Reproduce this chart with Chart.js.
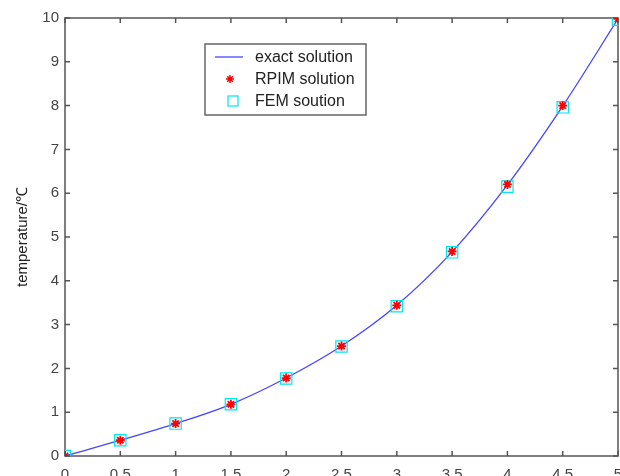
<!DOCTYPE html>
<html>
<head>
<meta charset="utf-8">
<script src="https://cdn.jsdelivr.net/npm/chart.js@4.4.0/dist/chart.umd.min.js"></script>
<style>
html, body { margin: 0; padding: 0; background: #fff; overflow: hidden; }
#wrap { position: relative; width: 640px; height: 500px; }
</style>
</head>
<body>
<div id="wrap"><canvas id="plot" width="640" height="500"></canvas></div>
<script>
// data
const xs = [0, 0.5, 1, 1.5, 2, 2.5, 3, 3.5, 4, 4.5, 5];
const exact = [0, 0.36, 0.74, 1.18, 1.78, 2.51, 3.44, 4.66, 6.19, 7.99, 9.98];
const rpim = [0, 0.36, 0.74, 1.18, 1.78, 2.51, 3.44, 4.67, 6.2, 8.0, 9.98];
const fem = [0, 0.36, 0.74, 1.18, 1.77, 2.5, 3.42, 4.65, 6.15, 7.96, 9.96];
const yTicks = [0, 1, 2, 3, 4, 5, 6, 7, 8, 9, 10];

const labels = ['exact solution', 'RPIM solution', 'FEM soution'];

function pts(ys) {
    return xs.map((x, i) => ({ x: x, y: ys[i] }));
}

const tickFont = { family: 'Liberation Sans, Arial, sans-serif', size: 15 };
const axisColor = '#555';
const lineBlue = '#4646ff';

// frame with inward ticks, drawn like matlab's box
const boxPlugin = {
    id: 'box',
    beforeDatasetsDraw(chart) {
        const ctx = chart.ctx;
        const a = chart.chartArea;
        const sx = chart.scales.x, sy = chart.scales.y;
        ctx.save();
        ctx.strokeStyle = axisColor;
        ctx.lineWidth = 1.5;
        ctx.strokeRect(a.left, a.top, a.right - a.left, a.bottom - a.top);
        ctx.beginPath();
        xs.forEach(v => {
            const px = sx.getPixelForValue(v);
            ctx.moveTo(px, a.bottom); ctx.lineTo(px, a.bottom - 5);
            ctx.moveTo(px, a.top); ctx.lineTo(px, a.top + 5);
        });
        yTicks.forEach(v => {
            const py = sy.getPixelForValue(v);
            ctx.moveTo(a.left, py); ctx.lineTo(a.left + 5, py);
            ctx.moveTo(a.right, py); ctx.lineTo(a.right - 5, py);
        });
        ctx.stroke();
        ctx.restore();
    }
};

const legendPlugin = {
    id: 'boxLegend',
    afterDraw(chart) {
        const ctx = chart.ctx;
        const x0 = 205, y0 = 44, w = 161, h = 71;
        ctx.save();
        ctx.fillStyle = '#fff';
        ctx.fillRect(x0, y0, w, h);
        ctx.strokeStyle = '#666';
        ctx.lineWidth = 1.5;
        ctx.strokeRect(x0, y0, w, h);

        const rows = [57, 79, 101];
        // line sample
        ctx.strokeStyle = lineBlue;
        ctx.lineWidth = 1.3;
        ctx.beginPath();
        ctx.moveTo(215, rows[0]); ctx.lineTo(243, rows[0]);
        ctx.stroke();
        // star
        ctx.strokeStyle = '#ff0000';
        ctx.lineWidth = 1.5;
        Chart.helpers.drawPoint(ctx, { pointStyle: 'star', radius: 4, rotation: 0, borderWidth: 1.5 }, 230, rows[1]);
        // square
        ctx.strokeStyle = '#00e5ee';
        ctx.lineWidth = 1.2;
        ctx.strokeRect(228, rows[2] - 5, 10, 10);

        ctx.fillStyle = '#222';
        ctx.font = '16px "Liberation Sans", Arial, sans-serif';
        ctx.textBaseline = 'middle';
        labels.forEach((t, i) => ctx.fillText(t, 255, rows[i] + 1));
        ctx.restore();
    }
};

const c = document.getElementById('plot').getContext('2d');
const chart = new Chart(c, {
    type: 'scatter',
    data: {
        datasets: [{
            label: labels[0],
            data: pts(exact),
            showLine: true,
            borderColor: lineBlue,
            borderWidth: 1.3,
            pointRadius: 0,
            cubicInterpolationMode: 'monotone',
            order: 3
        }, {
            label: labels[1],
            data: pts(rpim),
            pointStyle: 'star',
            pointRadius: 4.5,
            borderColor: '#ff0000',
            backgroundColor: '#ff0000',
            pointBorderWidth: 1.8,
            order: 1
        }, {
            label: labels[2],
            data: pts(fem),
            pointStyle: 'rect',
            pointRadius: 8,
            borderColor: '#00e5ee',
            backgroundColor: 'rgba(0,0,0,0)',
            pointBorderWidth: 1.2,
            order: 2
        }]
    },
    options: {
        responsive: false,
        animation: false,
        devicePixelRatio: 1,
        layout: { padding: { top: 18, right: 22, left: 0, bottom: 0 } },
        plugins: {
            legend: { display: false },
            tooltip: { enabled: false }
        },
        scales: {
            x: {
                type: 'linear',
                min: 0,
                max: 5,
                border: { display: false },
                grid: { display: false, drawTicks: false },
                ticks: {
                    stepSize: 0.5,
                    autoSkip: false,
                    maxRotation: 0,
                    padding: 10,
                    color: '#444',
                    font: tickFont,
                    callback: v => String(Math.round(v * 10) / 10)
                },
                afterFit(scale) { scale.height = 44; }
            },
            y: {
                min: 0,
                max: 10,
                border: { display: false },
                grid: { display: false, drawTicks: false },
                ticks: {
                    stepSize: 1,
                    padding: 6,
                    color: '#444',
                    font: tickFont
                },
                title: {
                    display: true,
                    text: 'temperature/℃',
                    color: '#222',
                    padding: { top: 14, bottom: 0 },
                    font: { family: 'Liberation Sans, Arial, sans-serif', size: 15 }
                },
                afterFit(scale) { scale.width = 65; }
            }
        }
    },
    plugins: [boxPlugin, legendPlugin]
});
</script>
</body>
</html>
